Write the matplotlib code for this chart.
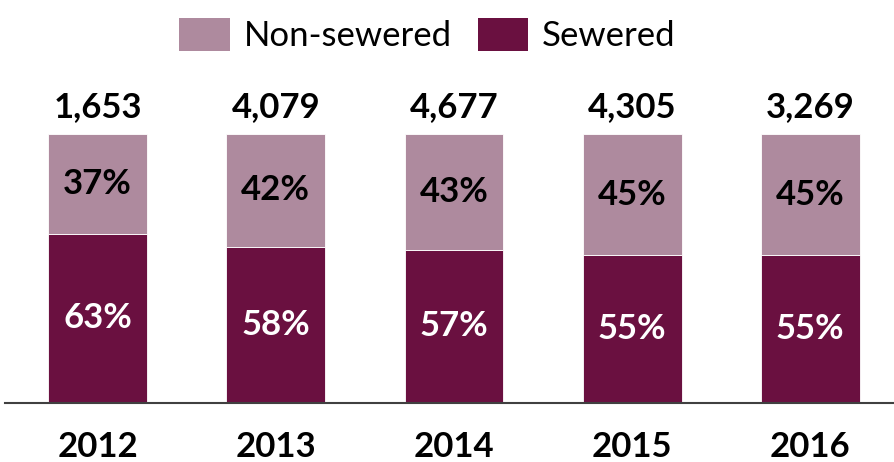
import matplotlib
matplotlib.use("Agg")
import matplotlib.pyplot as plt
from matplotlib.patches import Patch

years = ["2012", "2013", "2014", "2015", "2016"]
totals = ["1,653", "4,079", "4,677", "4,305", "3,269"]
sewered = [63, 58, 57, 55, 55]
non_sewered = [37, 42, 43, 45, 45]

c_non = "#AE8A9E"
c_sew = "#6A1040"

plt.rcParams['font.family'] = ['Lato', 'DejaVu Sans']

fig = plt.figure(figsize=(8.94, 4.62), dpi=100)
ax = fig.add_axes([5/894, 59/462, 889/894, 269/462])

x = list(range(len(years)))
w = 0.555
ax.bar(x, sewered, width=w, color=c_sew, edgecolor="white", linewidth=0.6)
ax.bar(x, non_sewered, width=w, bottom=sewered, color=c_non, edgecolor="white", linewidth=0.6)

fs = 25
for i in x:
    ax.text(i, sewered[i] / 2, f"{sewered[i]}%", ha="center", va="center",
            color="white", fontsize=fs, fontweight="bold")
    ax.text(i, sewered[i] + non_sewered[i] / 2, f"{non_sewered[i]}%", ha="center", va="center",
            color="black", fontsize=fs, fontweight="bold")
    ax.text(i, 110, totals[i], ha="center", va="center", color="black",
            fontsize=fs, fontweight="bold")
    ax.text(i, -16.4, years[i], ha="center", va="center", color="black",
            fontsize=fs, fontweight="bold")

ax.set_xlim(-0.52, 4.47)
ax.set_ylim(0, 100)
ax.set_xticks([])
ax.set_yticks([])
for s in ["top", "right", "left"]:
    ax.spines[s].set_visible(False)
ax.spines["bottom"].set_color("#404040")
ax.spines["bottom"].set_linewidth(1.5)

handles = [Patch(facecolor=c_non, label="Non-sewered"), Patch(facecolor=c_sew, label="Sewered")]
fig.legend(handles=handles, loc="center", bbox_to_anchor=(427.5/894, 1 - 35/462), ncol=2,
           frameon=False, fontsize=25, handlelength=1.45, handleheight=1.1,
           handletextpad=0.4, columnspacing=0.75)

fig.savefig("out.png", dpi=100)
